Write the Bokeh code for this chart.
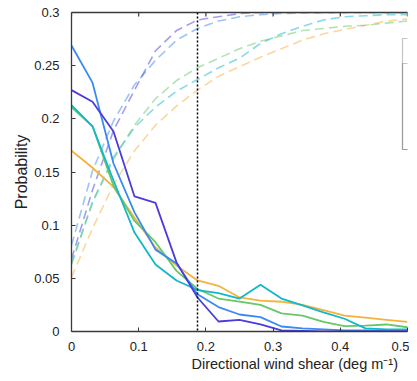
from bokeh.plotting import figure
from bokeh.models import Range1d, LinearAxis, Span, Title, BoxAnnotation, FixedTicker
from bokeh.embed import file_html
from bokeh.resources import INLINE

# bins of directional wind shear (deg m^-1), k/32
shear = [0.0, 0.03125, 0.0625, 0.09375, 0.125, 0.15625, 0.1875, 0.21875, 0.25,
         0.28125, 0.3125, 0.34375, 0.375, 0.40625, 0.4375, 0.46875, 0.5]

# probability distributions (solid lines)
p_indigo = [0.227, 0.216, 0.188, 0.127, 0.121, 0.065, 0.032, 0.0094, 0.011, 0.0066,
            0.001, 0.0005, 0.0, 0.0, 0.0, 0.0, 0.0]
p_blue = [0.269, 0.234, 0.158, 0.112, 0.077, 0.064, 0.035, 0.023, 0.016, 0.0135,
          0.0047, 0.003, 0.002, 0.001, 0.001, 0.0005, 0.0005]
p_teal = [0.213, 0.193, 0.142, 0.093, 0.063, 0.048, 0.039, 0.036, 0.031, 0.044,
          0.031, 0.0245, 0.018, 0.012, 0.003, 0.002, 0.002]
p_green = [0.211, 0.193, 0.137, 0.104, 0.084, 0.057, 0.040, 0.031, 0.028, 0.025,
           0.017, 0.015, 0.009, 0.005, 0.0056, 0.0066, 0.004]
p_orange = [0.170, 0.154, 0.136, 0.107, 0.079, 0.062, 0.048, 0.043, 0.032, 0.029,
            0.028, 0.025, 0.020, 0.015, 0.013, 0.011, 0.009]

# cumulative curves (scaled, dashed lines)
c_indigo = [0.068, 0.133, 0.189, 0.227, 0.264, 0.283, 0.293, 0.296, 0.299, 0.300,
            0.300, 0.300, 0.300, 0.300, 0.300, 0.300, 0.300]
c_blue = [0.081, 0.151, 0.198, 0.232, 0.255, 0.274, 0.285, 0.292, 0.296, 0.298,
          0.299, 0.2995, 0.2998, 0.300, 0.300, 0.300, 0.300]
c_teal = [0.064, 0.122, 0.164, 0.192, 0.211, 0.226, 0.237, 0.248, 0.257, 0.271,
          0.280, 0.287, 0.293, 0.296, 0.297, 0.298, 0.298]
c_green = [0.063, 0.121, 0.162, 0.194, 0.219, 0.236, 0.248, 0.257, 0.266, 0.273,
           0.278, 0.283, 0.285, 0.287, 0.288, 0.290, 0.292]
c_orange = [0.051, 0.097, 0.138, 0.170, 0.194, 0.212, 0.227, 0.240, 0.249, 0.258,
            0.266, 0.274, 0.280, 0.284, 0.288, 0.292, 0.294]

threshold = 0.1875

x_ticks = [0, 0.1, 0.2, 0.3, 0.4, 0.5]
x_tick_labels = ["0", "0.1", "0.2", "0.3", "0.4", "0.5"]
y_ticks = [0, 0.05, 0.1, 0.15, 0.2, 0.25, 0.3]
y_tick_labels = ["0", "0.05", "0.1", "0.15", "0.2", "0.25", "0.3"]

colors = {
    "indigo": "#4a3cdc",
    "blue": "#3a8af5",
    "teal": "#10b8c8",
    "green": "#66c86a",
    "orange": "#f5b23c",
}

FONT = "Liberation Sans"
AXIS_COLOR = "#3a3a3a"
X_MAX, Y_MAX = 0.5, 0.3
FRAME_H = 319

p = figure(width=409, height=373, output_backend="svg", toolbar_location=None,
           x_range=Range1d(0, X_MAX), y_range=Range1d(0, Y_MAX),
           min_border_left=71, min_border_right=2, min_border_top=12,
           min_border_bottom=42)
p.outline_line_color = None
p.grid.visible = False
p.background_fill_color = "white"
p.border_fill_color = "white"

# dashed cumulative curves
for cv, key in [(c_orange, "orange"), (c_teal, "teal"), (c_green, "green"),
                (c_blue, "blue"), (c_indigo, "indigo")]:
    p.line(shear, cv, line_color=colors[key], line_alpha=0.5, line_width=1.6,
           line_dash="9 5")

# solid probability curves
for pv, key in [(p_orange, "orange"), (p_green, "green"), (p_teal, "teal"),
                (p_blue, "blue"), (p_indigo, "indigo")]:
    p.line(shear, pv, line_color=colors[key], line_width=1.8)

p.add_layout(Span(location=threshold, dimension="height", line_color="black",
                  line_width=1.5, line_dash="2 2"))

# axes styling
for ax in [p.xaxis[0], p.yaxis[0]]:
    ax.axis_line_color = AXIS_COLOR
    ax.axis_line_width = 1.3
    ax.major_tick_line_color = AXIS_COLOR
    ax.major_tick_in = 4
    ax.major_tick_out = 0
    ax.minor_tick_line_color = None
    ax.major_label_text_font = FONT
    ax.major_label_text_font_size = "13px"
    ax.major_label_text_color = "#222222"

p.xaxis[0].ticker = FixedTicker(ticks=x_ticks)
p.xaxis[0].major_label_overrides = dict(zip(x_ticks, x_tick_labels))
p.xaxis[0].major_label_standoff = 10
p.yaxis[0].ticker = FixedTicker(ticks=y_ticks)
p.yaxis[0].major_label_overrides = dict(zip(y_ticks, y_tick_labels))
p.yaxis[0].major_label_standoff = 12
p.yaxis[0].axis_label = "Probability"
p.yaxis[0].axis_label_text_font = FONT
p.yaxis[0].axis_label_text_font_size = "16px"
p.yaxis[0].axis_label_text_font_style = "normal"
p.yaxis[0].axis_label_text_color = "#222222"
p.yaxis[0].axis_label_standoff = 1

# top box line (no labels) and its inward ticks
top = LinearAxis(ticker=FixedTicker(ticks=[]))
top.axis_line_color = AXIS_COLOR
top.axis_line_width = 1.3
top.minor_tick_line_color = None
top.major_tick_line_color = None
p.add_layout(top, "above")
tick_len = 4 * Y_MAX / FRAME_H
p.segment(x0=x_ticks, x1=x_ticks, y0=[Y_MAX] * len(x_ticks),
          y1=[Y_MAX - tick_len] * len(x_ticks), line_color=AXIS_COLOR, line_width=1.2)

# x axis title, offset as in the (cropped) original figure
p.add_layout(Title(text="Directional wind shear (deg m\u207b\u00b9)", align="left",
                   offset=120, text_font=FONT, text_font_size="14.5px",
                   text_font_style="normal", text_color="#222222", standoff=0),
             "below")

# cropped legend box at the right edge
p.add_layout(BoxAnnotation(left=402, right=430, top=38, bottom=149,
                           left_units="canvas", right_units="canvas",
                           top_units="canvas", bottom_units="canvas",
                           fill_color="white", fill_alpha=1.0,
                           line_color=AXIS_COLOR, line_width=1.2))
p.add_layout(BoxAnnotation(left=402, right=430, top=63, bottom=149,
                           left_units="canvas", right_units="canvas",
                           top_units="canvas", bottom_units="canvas",
                           fill_alpha=0.0, line_color=AXIS_COLOR, line_width=1.2))

open("out.html", "w").write(file_html(p, INLINE))
